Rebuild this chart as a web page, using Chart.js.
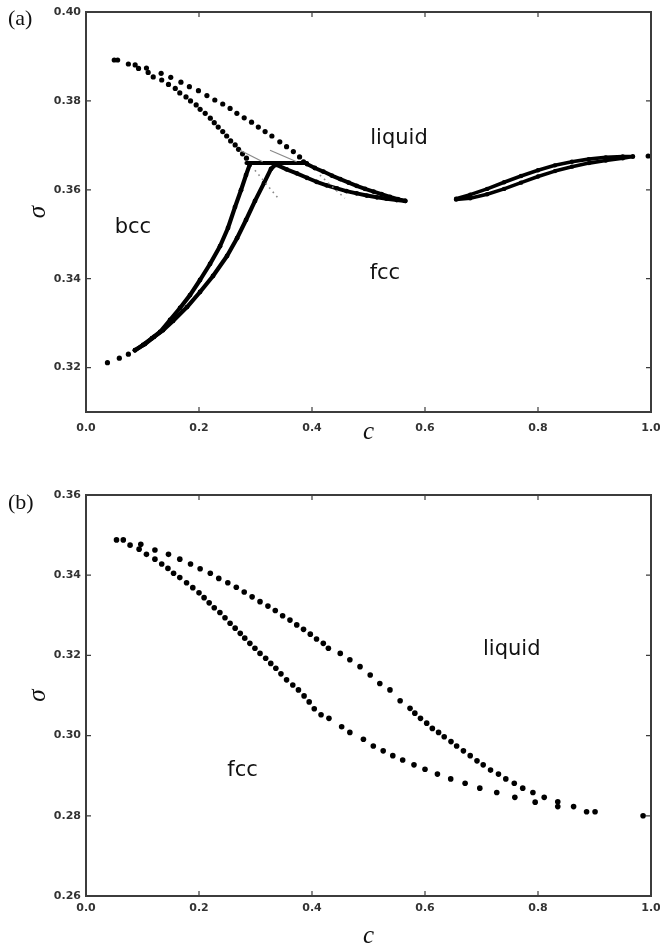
<!DOCTYPE html>
<html lang="en">
<head>
<meta charset="UTF-8">
<title>sigma vs c phase diagrams</title>
<script src="https://cdn.jsdelivr.net/npm/chart.js@4"></script>
<style>
  body { margin: 0; background: #fff; }
  .wrap { position: relative; width: 660px; height: 949px; }
  canvas { position: absolute; left: 0; }
  #chartA { top: 0; }
  #chartB { top: 460px; }
  .panel { position: absolute; left: 8px; font: 22px "Liberation Serif", "DejaVu Serif", serif; color: #111; line-height: 1; }
</style>
</head>
<body>
<div class="wrap">
  <canvas id="chartA" width="660" height="460"></canvas>
  <canvas id="chartB" width="660" height="489"></canvas>
  <div class="panel" style="top:7px;">(a)</div>
  <div class="panel" style="top:491px;">(b)</div>
</div>
<script>
  // tick labels
  const xTicks = [0, 0.2, 0.4, 0.6, 0.8, 1.0];
  const yTicksA = [0.32, 0.34, 0.36, 0.38, 0.40];
  const yTicksB = [0.26, 0.28, 0.30, 0.32, 0.34, 0.36];

  // ---- panel (a) ----
  // liquid side, dotted curves from the top-left
  const aOuterC = [0.050, 0.056, 0.075, 0.087, 0.107, 0.133, 0.150, 0.168, 0.183, 0.199, 0.214, 0.228, 0.242, 0.255, 0.267, 0.280, 0.293, 0.305, 0.317, 0.329, 0.343, 0.355, 0.367, 0.378, 0.385];
  const aOuterS = [0.3892, 0.3892, 0.3883, 0.3881, 0.3874, 0.3862, 0.3853, 0.3842, 0.3832, 0.3823, 0.3812, 0.3802, 0.3793, 0.3783, 0.3772, 0.3762, 0.3752, 0.3741, 0.3731, 0.3721, 0.3708, 0.3697, 0.3686, 0.3674, 0.3663];
  const aInnerC = [0.093, 0.110, 0.119, 0.134, 0.146, 0.158, 0.166, 0.177, 0.185, 0.195, 0.202, 0.211, 0.220, 0.227, 0.234, 0.242, 0.249, 0.256, 0.264, 0.270, 0.277, 0.284];
  const aInnerS = [0.3873, 0.3864, 0.3854, 0.3847, 0.3837, 0.3828, 0.3818, 0.3809, 0.3800, 0.3791, 0.3781, 0.3772, 0.3761, 0.3751, 0.3741, 0.3731, 0.3721, 0.3710, 0.3701, 0.3691, 0.3681, 0.3671];
  // horizontal tie line at the triple point
  const aTieC = [0.284, 0.391];
  const aTieS = [0.3660, 0.3660];
  // fcc / liquid thick curves running to c ~ 0.57
  const aFccUpC = [0.391, 0.405, 0.420, 0.435, 0.450, 0.465, 0.479, 0.494, 0.509, 0.523, 0.538, 0.552, 0.565];
  const aFccUpS = [0.3658, 0.3649, 0.3641, 0.3632, 0.3624, 0.3616, 0.3609, 0.3602, 0.3596, 0.3590, 0.3584, 0.3579, 0.3575];
  const aFccLowC = [0.3375, 0.355, 0.373, 0.391, 0.408, 0.426, 0.444, 0.461, 0.479, 0.497, 0.515, 0.532, 0.550, 0.565];
  const aFccLowS = [0.3656, 0.3646, 0.3637, 0.3627, 0.3618, 0.3610, 0.3603, 0.3597, 0.3592, 0.3587, 0.3583, 0.3580, 0.3577, 0.3575];
  // bcc / fcc curves from the bottom-left
  const aBccTailC = [0.038, 0.059, 0.075];
  const aBccTailS = [0.3211, 0.3221, 0.3230];
  const aBccLeftC = [0.0867, 0.1009, 0.1168, 0.1310, 0.1487, 0.1664, 0.1841, 0.2018, 0.2195, 0.2372, 0.2513, 0.2637, 0.2743, 0.2832, 0.2896];
  const aBccLeftS = [0.3239, 0.3251, 0.3266, 0.3280, 0.3307, 0.3334, 0.3363, 0.3397, 0.3433, 0.3473, 0.3514, 0.3561, 0.3599, 0.3633, 0.3656];
  const aBccRightC = [0.0867, 0.1044, 0.1204, 0.1363, 0.1540, 0.1788, 0.2018, 0.2248, 0.2496, 0.2673, 0.2832, 0.2991, 0.3150, 0.3274, 0.3345];
  const aBccRightS = [0.3239, 0.3253, 0.3269, 0.3284, 0.3305, 0.3336, 0.3370, 0.3406, 0.3451, 0.3491, 0.3532, 0.3575, 0.3615, 0.3647, 0.3656];
  // right-hand band
  const aRightC = [0.655, 0.68, 0.71, 0.74, 0.77, 0.80, 0.83, 0.86, 0.89, 0.92, 0.95, 0.968];
  const aRightUpS = [0.3580, 0.3589, 0.3602, 0.3617, 0.3631, 0.3644, 0.3655, 0.3663, 0.3669, 0.3673, 0.3675, 0.3675];
  const aRightLowS = [0.3578, 0.3581, 0.3590, 0.3602, 0.3616, 0.3630, 0.3642, 0.3652, 0.3660, 0.3666, 0.3671, 0.3675];
  const aEndC = [0.995];
  const aEndS = [0.3676];
  // thin grey guide lines near the triple point
  const aGray1C = [0.2726, 0.3127];
  const aGray1S = [0.3689, 0.3663];
  const aGray2C = [0.3257, 0.3729];
  const aGray2S = [0.3689, 0.3663];
  const aDot1C = [0.299, 0.340];
  const aDot1S = [0.3644, 0.3581];
  const aDot2C = [0.414, 0.458];
  const aDot2S = [0.3633, 0.3581];

  // ---- panel (b) ----
  const bUpC = [0.054, 0.066, 0.078, 0.097, 0.122, 0.146, 0.166, 0.185, 0.202, 0.220, 0.235, 0.251, 0.266, 0.280, 0.294, 0.308, 0.322, 0.335, 0.348, 0.361, 0.373, 0.385, 0.397, 0.408, 0.420, 0.429, 0.450, 0.467, 0.485, 0.503, 0.520, 0.538, 0.556, 0.5735, 0.582, 0.592, 0.603, 0.613, 0.624, 0.634, 0.646, 0.656, 0.668, 0.680, 0.692, 0.703, 0.716, 0.730, 0.743, 0.758, 0.773, 0.791, 0.811, 0.835, 0.863, 0.886, 0.901];
  const bUpS = [0.3488, 0.3488, 0.3475, 0.3477, 0.3463, 0.3452, 0.3440, 0.3428, 0.3416, 0.3405, 0.3392, 0.3381, 0.3370, 0.3358, 0.3346, 0.3334, 0.3323, 0.3312, 0.3299, 0.3288, 0.3276, 0.3265, 0.3253, 0.3241, 0.3230, 0.3218, 0.3205, 0.3189, 0.3172, 0.3151, 0.3130, 0.3114, 0.3087, 0.3068, 0.3056, 0.3043, 0.3031, 0.3018, 0.3008, 0.2997, 0.2985, 0.2974, 0.2962, 0.2950, 0.2937, 0.2927, 0.2914, 0.2904, 0.2892, 0.2881, 0.2869, 0.2858, 0.2846, 0.2835, 0.2823, 0.2810, 0.2810];
  const bLowC = [0.094, 0.107, 0.122, 0.134, 0.145, 0.155, 0.166, 0.178, 0.189, 0.200, 0.209, 0.218, 0.227, 0.237, 0.246, 0.255, 0.264, 0.273, 0.281, 0.290, 0.299, 0.308, 0.318, 0.327, 0.336, 0.345, 0.355, 0.366, 0.376, 0.386, 0.395, 0.404, 0.416, 0.430, 0.4525, 0.467, 0.491, 0.5085, 0.526, 0.543, 0.5605, 0.5805, 0.600, 0.622, 0.6455, 0.671, 0.697, 0.727, 0.759, 0.795, 0.835];
  const bLowS = [0.3465, 0.3452, 0.3440, 0.3428, 0.3417, 0.3405, 0.3394, 0.3381, 0.3369, 0.3356, 0.3344, 0.3331, 0.3319, 0.3307, 0.3294, 0.3280, 0.3268, 0.3255, 0.3243, 0.3230, 0.3218, 0.3205, 0.3193, 0.3180, 0.3168, 0.3154, 0.3139, 0.3126, 0.3114, 0.3099, 0.3084, 0.3067, 0.3052, 0.3043, 0.3022, 0.3008, 0.2991, 0.2974, 0.2962, 0.2950, 0.2939, 0.2927, 0.2916, 0.2904, 0.2892, 0.2881, 0.2869, 0.2858, 0.2846, 0.2834, 0.2823];
  const bEndC = [0.986];
  const bEndS = [0.2800];

  const pts = (cs, ss) => cs.map((c, i) => ({ x: c, y: ss[i] }));

  function dots(cs, ss, r) {
    return { data: pts(cs, ss), showLine: false, pointRadius: r, pointBackgroundColor: '#000', pointBorderWidth: 0 };
  }
  function curve(cs, ss, w, r) {
    return { data: pts(cs, ss), showLine: true, borderColor: '#000', borderWidth: w, borderCapStyle: 'round',
             borderJoinStyle: 'round', pointRadius: r, pointBackgroundColor: '#000', pointBorderWidth: 0, tension: 0 };
  }
  function guide(cs, ss, dash) {
    return { data: pts(cs, ss), showLine: true, borderColor: '#8a8a8a', borderWidth: dash ? 1.6 : 1.2,
             borderDash: dash ? [1.6, 4] : [], pointRadius: 0 };
  }

  // frame with inward ticks on all four sides
  const framePlugin = {
    id: 'frame',
    afterDatasetsDraw(chart) {
      const { ctx, chartArea: a, scales: { x, y } } = chart;
      ctx.save();
      ctx.strokeStyle = '#3c3c3c';
      ctx.lineWidth = 1.2;
      x.ticks.forEach(t => {
        const px = x.getPixelForValue(t.value);
        ctx.beginPath();
        ctx.moveTo(px, a.bottom); ctx.lineTo(px, a.bottom - 5);
        ctx.moveTo(px, a.top); ctx.lineTo(px, a.top + 5);
        ctx.stroke();
      });
      y.ticks.forEach(t => {
        const py = y.getPixelForValue(t.value);
        ctx.beginPath();
        ctx.moveTo(a.left, py); ctx.lineTo(a.left + 5, py);
        ctx.moveTo(a.right, py); ctx.lineTo(a.right - 5, py);
        ctx.stroke();
      });
      ctx.lineWidth = 2;
      ctx.strokeRect(a.left, a.top, a.right - a.left, a.bottom - a.top);
      ctx.restore();
    }
  };

  const regionText = {
    id: 'regionText',
    afterDatasetsDraw(chart, args, opts) {
      const { ctx, scales: { x, y } } = chart;
      ctx.save();
      ctx.font = '21px "DejaVu Sans"';
      ctx.fillStyle = '#111';
      ctx.textAlign = 'center';
      ctx.textBaseline = 'alphabetic';
      (opts.items || []).forEach(n => ctx.fillText(n.text, x.getPixelForValue(n.c), y.getPixelForValue(n.s)));
      ctx.restore();
    }
  };

  const tickFont = { family: 'DejaVu Sans', size: 11, weight: 'bold' };

  function makeChart(id, cfg) {
    return new Chart(document.getElementById(id), {
      type: 'scatter',
      data: { datasets: cfg.datasets },
      plugins: [framePlugin, regionText],
      options: {
        responsive: false,
        animation: false,
        layout: { padding: { left: 0, right: 9, top: cfg.top, bottom: 0 } },
        plugins: {
          legend: { display: false },
          tooltip: { enabled: false },
          regionText: { items: cfg.notes }
        },
        scales: {
          x: {
            type: 'linear', min: 0, max: 1,
            afterBuildTicks: s => { s.ticks = xTicks.map(v => ({ value: v })); },
            afterFit: s => { s.height = cfg.xHeight; s.paddingLeft = 0; s.paddingRight = 0; },
            grid: { display: false, drawTicks: false },
            border: { display: false },
            ticks: { padding: cfg.xPad, font: tickFont, color: '#333', maxRotation: 0, autoSkip: false,
                     callback: v => v.toFixed(1) },
            title: { display: true, text: 'c', color: '#111',
                     font: { family: 'Liberation Serif', size: 25, style: 'italic', lineHeight: 1 },
                     padding: { top: 0, bottom: cfg.xTitlePad } }
          },
          y: {
            type: 'linear', min: cfg.yMin, max: cfg.yMax,
            afterBuildTicks: s => { s.ticks = cfg.yTicks.map(v => ({ value: v })); },
            afterFit: s => { s.width = 86; s.paddingTop = 0; s.paddingBottom = 0; },
            grid: { display: false, drawTicks: false },
            border: { display: false },
            ticks: { padding: 5, font: tickFont, color: '#333', callback: v => v.toFixed(2) },
            title: { display: true, text: 'σ', color: '#111',
                     font: { family: 'Liberation Serif', size: 25, style: 'italic', lineHeight: 1 },
                     padding: { top: 26, bottom: 0 } }
          }
        }
      }
    });
  }

  makeChart('chartA', {
    top: 12, xHeight: 48, xPad: 10, xTitlePad: 15,
    yMin: 0.31, yMax: 0.40, yTicks: yTicksA,
    notes: [
      { text: 'liquid', c: 0.554, s: 0.3702 },
      { text: 'bcc', c: 0.083, s: 0.3502 },
      { text: 'fcc', c: 0.529, s: 0.3399 }
    ],
    datasets: [
      guide(aGray1C, aGray1S, false),
      guide(aGray2C, aGray2S, false),
      guide(aDot1C, aDot1S, true),
      guide(aDot2C, aDot2S, true),
      dots(aOuterC, aOuterS, 2.6),
      dots(aInnerC, aInnerS, 2.6),
      curve(aTieC, aTieS, 4, 0),
      curve(aFccUpC, aFccUpS, 4, 2.4),
      curve(aFccLowC, aFccLowS, 4, 2.4),
      dots(aBccTailC, aBccTailS, 2.6),
      curve(aBccLeftC, aBccLeftS, 4.2, 2.4),
      curve(aBccRightC, aBccRightS, 4.2, 2.4),
      curve(aRightC, aRightUpS, 3.6, 2.2),
      curve(aRightC, aRightLowS, 3.6, 2.2),
      dots(aEndC, aEndS, 2.6)
    ]
  });

  makeChart('chartB', {
    top: 35, xHeight: 53, xPad: 6, xTitlePad: 0,
    yMin: 0.26, yMax: 0.36, yTicks: yTicksB,
    notes: [
      { text: 'liquid', c: 0.7535, s: 0.3201 },
      { text: 'fcc', c: 0.277, s: 0.2899 }
    ],
    datasets: [
      dots(bUpC, bUpS, 2.8),
      dots(bLowC, bLowS, 2.8),
      dots(bEndC, bEndS, 2.8)
    ]
  });
</script>
</body>
</html>
